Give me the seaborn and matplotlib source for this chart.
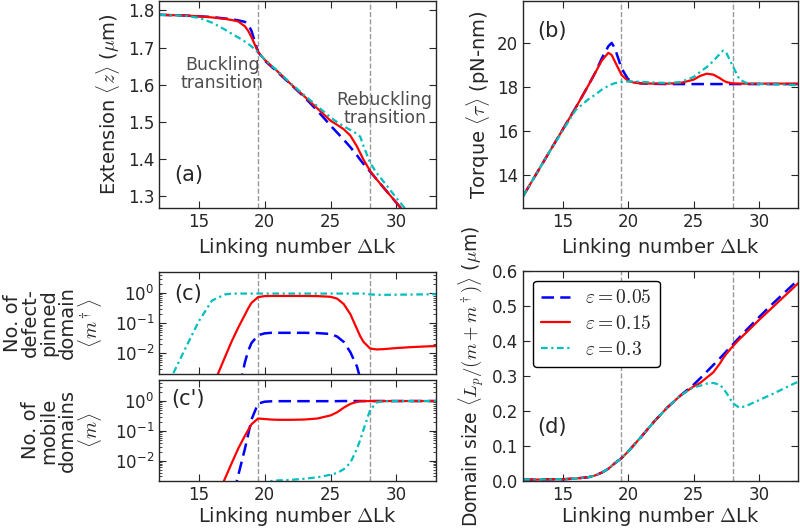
import matplotlib
matplotlib.use("Agg")
import matplotlib.pyplot as plt
import seaborn as sns

# linking number grid shared by all curves
lk = [12, 13, 14, 15, 16, 17, 17.5, 18, 18.5, 18.75, 19, 19.5, 20, 20.5, 21, 22,
      23, 24, 25, 25.5, 26, 26.5, 27, 27.25, 27.5, 28, 28.5, 29, 30, 31, 32, 33]

eps_labels = [r"$\varepsilon=0.05$", r"$\varepsilon=0.15$", r"$\varepsilon=0.3$"]

# (a) extension (um)
ext_005 = [1.788, 1.787, 1.786, 1.784, 1.782, 1.778, 1.776, 1.773, 1.769, 1.762, 1.745, 1.688,
           1.665, 1.649, 1.633, 1.600, 1.567, 1.530, 1.490, 1.471, 1.452, 1.432, 1.410, 1.398,
           1.387, 1.366, 1.345, 1.324, 1.282, 1.240, 1.198, 1.156]
ext_015 = [1.788, 1.787, 1.786, 1.784, 1.781, 1.777, 1.774, 1.770, 1.757, 1.745, 1.728, 1.688,
           1.667, 1.651, 1.635, 1.601, 1.569, 1.536, 1.503, 1.492, 1.480, 1.463, 1.434, 1.416,
           1.398, 1.368, 1.345, 1.324, 1.282, 1.240, 1.198, 1.156]
ext_03 = [1.788, 1.787, 1.785, 1.780, 1.767, 1.748, 1.737, 1.727, 1.716, 1.710, 1.703, 1.687,
          1.668, 1.652, 1.636, 1.603, 1.572, 1.542, 1.512, 1.499, 1.488, 1.478, 1.468, 1.460,
          1.435, 1.390, 1.362, 1.340, 1.295, 1.252, 1.210, 1.170]

# (b) torque (pN-nm)
tq_005 = [13.05, 14.05, 15.05, 16.05, 17.05, 18.1, 18.65, 19.3, 19.85, 20.0, 19.75, 18.85,
          18.35, 18.22, 18.16, 18.14, 18.13, 18.13, 18.13, 18.13, 18.13, 18.13, 18.13, 18.13,
          18.13, 18.13, 18.13, 18.13, 18.13, 18.13, 18.13, 18.13]
tq_015 = [13.05, 14.05, 15.05, 16.05, 17.05, 18.1, 18.65, 19.2, 19.55, 19.45, 19.15, 18.55,
          18.27, 18.19, 18.16, 18.15, 18.15, 18.18, 18.33, 18.5, 18.6, 18.56, 18.4, 18.3,
          18.22, 18.16, 18.15, 18.15, 18.15, 18.15, 18.15, 18.15]
tq_03 = [13.05, 14.05, 15.05, 16.0, 16.95, 17.45, 17.65, 17.88, 18.05, 18.12, 18.17, 18.23,
         18.25, 18.25, 18.23, 18.2, 18.18, 18.22, 18.45, 18.68, 18.9, 19.17, 19.5, 19.65,
         19.55, 18.94, 18.34, 18.19, 18.13, 18.12, 18.1, 18.08]

# (c) defect-pinned domains <m+>
pin_005 = [1e-5, 1e-5, 1e-5, 1e-5, 1e-5, 1e-5, 1e-5, 5e-4, 5e-3, 0.012, 0.022, 0.040,
           0.046, 0.048, 0.048, 0.048, 0.048, 0.047, 0.044, 0.036, 0.024, 0.011, 0.0037, 0.0015,
           0.0008, 1e-4, 1e-5, 1e-5, 1e-5, 1e-5, 1e-5, 1e-5]
pin_015 = [1e-5, 1e-5, 1e-5, 1e-5, 7e-4, 0.0077, 0.025, 0.072, 0.19, 0.31, 0.47, 0.73,
           0.79, 0.80, 0.80, 0.80, 0.80, 0.79, 0.75, 0.65, 0.43, 0.20, 0.065, 0.037,
           0.024, 0.0145, 0.0135, 0.0138, 0.015, 0.016, 0.0168, 0.0175]
pin_03 = [2.5e-4, 0.0019, 0.015, 0.115, 0.56, 0.90, 0.95, 0.96, 0.96, 0.96, 0.96, 0.96,
          0.96, 0.96, 0.96, 0.96, 0.96, 0.96, 0.96, 0.96, 0.96, 0.96, 0.96, 0.96,
          0.96, 0.90, 0.87, 0.87, 0.88, 0.89, 0.90, 0.91]

# (c') mobile domains <m>
mob_005 = [1e-5, 1e-5, 1e-5, 1e-5, 1e-5, 1e-5, 4e-4, 0.0033, 0.025, 0.075, 0.24, 0.82,
           0.95, 0.98, 0.99, 0.99, 0.99, 0.99, 0.99, 0.99, 1.0, 1.0, 1.0, 1.0,
           1.0, 1.0, 1.0, 1.0, 1.0, 1.0, 1.0, 1.0]
mob_015 = [1e-5, 1e-5, 1e-5, 1e-5, 2.6e-4, 0.0026, 0.0083, 0.026, 0.068, 0.106, 0.166, 0.26,
           0.25, 0.24, 0.235, 0.235, 0.24, 0.26, 0.33, 0.42, 0.60, 0.80, 0.94, 0.98,
           0.99, 1.0, 1.0, 1.0, 1.0, 1.0, 1.0, 1.0]
mob_03 = [1e-4, 1e-4, 1e-4, 1e-4, 2e-4, 4e-4, 6e-4, 8e-4, 0.0011, 0.0012, 0.0014, 0.0016,
          0.0019, 0.0021, 0.0022, 0.0023, 0.0025, 0.0028, 0.0034, 0.0039, 0.0052, 0.0085, 0.025, 0.05,
          0.11, 0.50, 0.90, 0.98, 1.0, 1.0, 1.0, 1.0]

# (d) domain size (um)
dom_005 = [0.004, 0.004, 0.005, 0.005, 0.007, 0.011, 0.016, 0.024, 0.035, 0.043, 0.051, 0.065,
           0.084, 0.105, 0.126, 0.170, 0.210, 0.244, 0.275, 0.293, 0.312, 0.331, 0.350, 0.360,
           0.370, 0.390, 0.410, 0.430, 0.468, 0.505, 0.540, 0.575]
dom_015 = [0.004, 0.004, 0.005, 0.005, 0.007, 0.011, 0.016, 0.024, 0.035, 0.043, 0.051, 0.065,
           0.084, 0.105, 0.126, 0.170, 0.210, 0.244, 0.270, 0.280, 0.295, 0.310, 0.335, 0.350,
           0.363, 0.385, 0.405, 0.423, 0.460, 0.495, 0.530, 0.565]
dom_03 = [0.004, 0.004, 0.005, 0.005, 0.007, 0.011, 0.016, 0.024, 0.035, 0.043, 0.051, 0.065,
          0.084, 0.105, 0.126, 0.170, 0.210, 0.244, 0.268, 0.272, 0.278, 0.280, 0.275, 0.265,
          0.252, 0.222, 0.209, 0.214, 0.231, 0.248, 0.266, 0.284]

transitions = [19.5, 28]

sns.set_style("ticks", {"xtick.direction": "in", "ytick.direction": "in"})
plt.rcParams["font.family"] = ["DejaVu Sans"]
plt.rcParams["mathtext.fontset"] = "cm"

colors = ["b", "r", "c"]
styles = [(0, (5, 2.5)), "-", (0, (3, 1.6, 1, 1.6))]
widths = [1.8, 1.6, 1.6]

fig = plt.figure(figsize=(8, 5.28), dpi=100)
ax_a = fig.add_axes([0.199, 0.606, 0.346, 0.392])
ax_b = fig.add_axes([0.654, 0.606, 0.344, 0.392])
ax_c = fig.add_axes([0.199, 0.292, 0.346, 0.193])
ax_c2 = fig.add_axes([0.199, 0.089, 0.346, 0.191])
ax_d = fig.add_axes([0.654, 0.089, 0.344, 0.398])


def draw(ax, series):
    for ys, col, ls, lw, lab in zip(series, colors, styles, widths, eps_labels):
        sns.lineplot(x=lk, y=ys, ax=ax, color=col, linestyle=ls, linewidth=lw,
                     label=lab, legend=False)
    for t in transitions:
        ax.axvline(t, color="0.6", ls="--", lw=1.0, zorder=0)
    ax.set_xlim(12, 33)
    ax.set_xticks([15, 20, 25, 30])
    ax.tick_params(which="both", direction="in", top=True, right=True, labelsize=12)
    ax.tick_params(which="major", length=5)
    ax.tick_params(which="minor", length=2.5)
    for s in ax.spines.values():
        s.set_linewidth(1.0)


xlab = r"Linking number $\Delta$Lk"

draw(ax_a, [ext_005, ext_015, ext_03])
ax_a.set_ylim(1.268, 1.825)
ax_a.set_yticks([1.3, 1.4, 1.5, 1.6, 1.7, 1.8])
ax_a.set_ylabel(r"Extension $\langle z \rangle$ ($\mu$m)", fontsize=14)
ax_a.set_xlabel(xlab, fontsize=14)
ax_a.text(0.105, 0.16, "(a)", transform=ax_a.transAxes, fontsize=15, ha="center", va="center")
ax_a.text(16.8, 1.63, "Buckling\ntransition", color="0.3", fontsize=12.5,
          ha="center", va="center", linespacing=1.0)
ax_a.text(29.1, 1.535, "Rebuckling\ntransition", color="0.3", fontsize=12.5,
          ha="center", va="center", linespacing=1.0)

draw(ax_b, [tq_005, tq_015, tq_03])
ax_b.set_ylim(12.5, 21.9)
ax_b.set_yticks([14, 16, 18, 20])
ax_b.set_ylabel(r"Torque $\langle \tau \rangle$ (pN-nm)", fontsize=14)
ax_b.set_xlabel(xlab, fontsize=14)
ax_b.text(0.105, 0.856, "(b)", transform=ax_b.transAxes, fontsize=15, ha="center", va="center")

for ax, ys, lab, tag, ty in [
        (ax_c, [pin_005, pin_015, pin_03],
         "No. of\ndefect-\npinned\ndomain\n" + r"$\langle m^\dagger \rangle$", "(c)", 0.784),
        (ax_c2, [mob_005, mob_015, mob_03],
         "No. of\nmobile\ndomains\n" + r"$\langle m \rangle$", "(c')", 0.81)]:
    ax.set_yscale("log")
    draw(ax, ys)
    ax.set_ylim(2.1e-3, 5)
    ax.set_yticks([1e-2, 1e-1, 1])
    ax.set_ylabel(lab, fontsize=14, linespacing=0.95, labelpad=8)
    ax.text(0.105, ty, tag, transform=ax.transAxes, fontsize=15, ha="center", va="center")
ax_c.tick_params(labelbottom=False)
ax_c2.set_xlabel(xlab, fontsize=14, labelpad=1)

draw(ax_d, [dom_005, dom_015, dom_03])
ax_d.set_ylim(0, 0.6)
ax_d.set_yticks([0.0, 0.1, 0.2, 0.3, 0.4, 0.5, 0.6])
ax_d.set_yticklabels(["0.0", "0.1", "0.2", "0.3", "0.4", "0.5", "0.6"])
ax_d.set_ylabel(r"Domain size $\langle L_p/(m+m^\dagger)\rangle$ ($\mu$m)", fontsize=13.5)
ax_d.set_xlabel(xlab, fontsize=14, labelpad=1)
ax_d.text(0.105, 0.257, "(d)", transform=ax_d.transAxes, fontsize=15, ha="center", va="center")
leg = ax_d.legend(loc="upper left", fontsize=14, handlelength=1.5, fancybox=True,
                  framealpha=1, edgecolor="black", labelspacing=0.35)
leg.get_frame().set_linewidth(1.0)

fig.savefig("out.png", dpi=100)
